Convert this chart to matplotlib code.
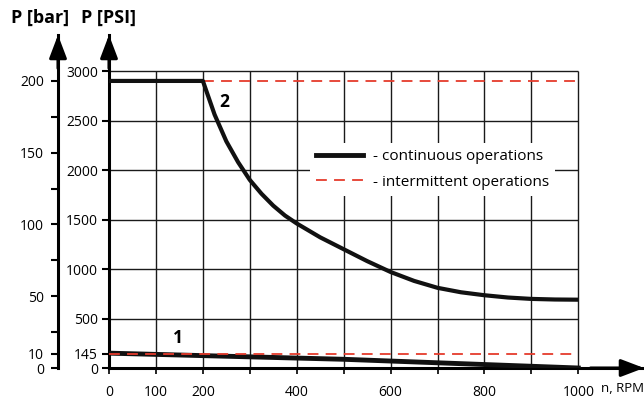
import matplotlib.pyplot as plt
from matplotlib.lines import Line2D

plt.rcParams['font.family'] = ['Open Sans', 'DejaVu Sans']

# curve 2 - continuous operations, pressure in PSI vs speed
rpm_2 = [0, 200, 225, 250, 275, 300, 325, 350, 375, 400, 450, 500, 550, 600,
         650, 700, 750, 800, 850, 900, 950, 1000]
psi_2 = [2900, 2900, 2560, 2290, 2080, 1900, 1760, 1640, 1540, 1460, 1320, 1200,
         1080, 970, 880, 810, 765, 735, 712, 698, 692, 690]

# curve 1 - continuous operations
rpm_1 = [0, 200, 500, 800, 1000]
psi_1 = [150, 125, 88, 35, 0]

# intermittent limits
rpm_int_2 = [200, 1000]
psi_int_2 = [2900, 2900]
rpm_int_1 = [0, 1000]
psi_int_1 = [145, 145]

x_ticks = [0, 100, 200, 300, 400, 500, 600, 700, 800, 900, 1000]
x_labels = ['0', '100', '200', '', '400', '', '600', '', '800', '', '1000']
psi_ticks = [0, 145, 500, 1000, 1500, 2000, 2500, 3000]
bar_ticks = [0, 10, 25, 50, 75, 100, 125, 150, 175, 200]
bar_labels = ['0', '10', '', '50', '', '100', '', '150', '', '200']
PSI_PER_BAR = 14.5

RED = '#e53b2c'

fig = plt.figure(figsize=(6.44, 3.99), dpi=100)
ax = fig.add_axes([109 / 644, 31 / 399, 535 / 644, 333 / 399])
ax.set_xlim(0, 1140)
ax.set_ylim(0, 3364)

# grid, only inside the 0..1000 / 0..3000 box
ax.hlines(psi_ticks[2:], 0, 1000, color='#1a1a1a', lw=1.0, zorder=1)
ax.vlines(x_ticks[1:], 0, 3000, color='#1a1a1a', lw=1.0, zorder=1)

ax.plot(rpm_int_2, psi_int_2, color=RED, lw=1.3, dashes=(6, 4), zorder=2)
ax.plot(rpm_int_1, psi_int_1, color=RED, lw=1.3, dashes=(6, 4), zorder=4)
ax.plot(rpm_2, psi_2, color='#111111', lw=3.0, zorder=3,
        solid_joinstyle='round', solid_capstyle='butt')
ax.plot(rpm_1, psi_1, color='#111111', lw=3.5, zorder=3, solid_joinstyle='round')

ax.text(147, 303, '1', fontsize=12.5, fontweight='bold', ha='center', va='center')
ax.text(245, 2690, '2', fontsize=12.5, fontweight='bold', ha='center', va='center')

# axes
for s in ['top', 'right']:
    ax.spines[s].set_visible(False)
for s in ['left', 'bottom']:
    ax.spines[s].set_linewidth(2.2)
ax.set_xticks(x_ticks)
ax.set_xticklabels(x_labels)
ax.set_yticks(psi_ticks)
ax.tick_params(axis='x', length=4, width=1.2, pad=8, labelsize=10)
ax.tick_params(axis='y', length=5, width=1.5, pad=3, labelsize=10)

bar_x = (58 - 109) / 535
sec = ax.secondary_yaxis(bar_x, functions=(lambda p: p / PSI_PER_BAR, lambda b: b * PSI_PER_BAR))
sec.set_yticks(bar_ticks)
sec.set_yticklabels(bar_labels)
sec.spines['left'].set_linewidth(2.2)
sec.tick_params(axis='y', length=5, width=1.5, pad=5, labelsize=10)

# arrow heads on the axes
head = dict(arrowstyle='-|>,head_length=1.0,head_width=0.38', color='black',
            lw=2.2, shrinkA=0, shrinkB=0, mutation_scale=14)
for xa in [0, bar_x]:
    ax.annotate('', xy=(xa, 1.0), xytext=(xa, 0.9), xycoords='axes fraction',
                arrowprops=head, annotation_clip=False)
ax.annotate('', xy=(1.0, 0), xytext=(0.9, 0), xycoords='axes fraction',
            arrowprops=head, annotation_clip=False)

ax.text(1094, -212, 'n, RPM', fontsize=9.5, ha='center', va='center', clip_on=False)
fig.text(40 / 644, 1 - 18 / 399, 'P [bar]', fontsize=13, fontweight='bold', ha='center', va='center')
fig.text(109 / 644, 1 - 18 / 399, 'P [PSI]', fontsize=13, fontweight='bold', ha='center', va='center')

handles = [Line2D([], [], color='#111111', lw=3.5),
           Line2D([], [], color=RED, lw=1.3, dashes=(6, 4))]
leg = ax.legend(handles, ['- continuous operations', '- intermittent operations'],
                loc='upper left', bbox_to_anchor=((310 - 109) / 535, (368 - 143) / 333),
                borderaxespad=0, fontsize=11, handlelength=3.1, handletextpad=0.6,
                borderpad=0.4, labelspacing=0.7, frameon=True, fancybox=False,
                framealpha=1, edgecolor='none', facecolor='white')
leg.set_zorder(5)

fig.savefig('out.png', dpi=100)
